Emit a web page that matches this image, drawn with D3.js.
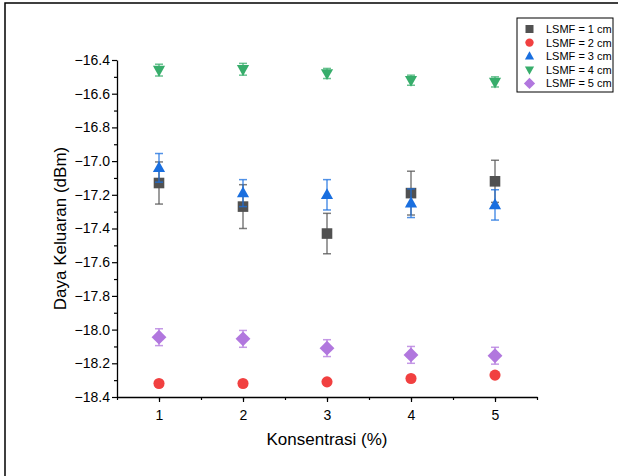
<!DOCTYPE html>
<html>
<head>
<meta charset="utf-8">
<script src="https://cdn.jsdelivr.net/npm/d3@7"></script>
<style>
  body { margin: 0; background: #fff; }
  svg text { font-family: "Liberation Sans", Arial, sans-serif; fill: #000; }
</style>
</head>
<body>
<div class="chart"></div>
<script>
// konsentrasi (%)
const konsentrasi = [1, 2, 3, 4, 5];

const seriesNames = ['LSMF = 1 cm', 'LSMF = 2 cm', 'LSMF = 3 cm', 'LSMF = 4 cm', 'LSMF = 5 cm'];

// daya keluaran (dBm)
const lsmf1 = [-17.13, -17.27, -17.43, -17.19, -17.12];
const lsmf2 = [-18.32, -18.32, -18.31, -18.29, -18.27];
const lsmf3 = [-17.04, -17.19, -17.20, -17.25, -17.26];
const lsmf4 = [-16.46, -16.455, -16.48, -16.52, -16.53];
const lsmf5 = [-18.045, -18.055, -18.11, -18.15, -18.155];

// error bars
const err1 = [0.125, 0.13, 0.12, 0.13, 0.125];
const err2 = [0.01, 0.01, 0.01, 0.01, 0.01];
const err3 = [0.085, 0.08, 0.09, 0.085, 0.09];
const err4 = [0.035, 0.035, 0.03, 0.03, 0.03];
const err5 = [0.05, 0.05, 0.05, 0.05, 0.05];

const yTicks = [-18.4, -18.2, -18.0, -17.8, -17.6, -17.4, -17.2, -17.0, -16.8, -16.6, -16.4];

const colors  = ['#515151', '#F14040', '#1A6FDF', '#37AD6B', '#B177DE'];
const symbols = ['square', 'circle', 'triangle', 'triangleDown', 'diamond'];

const series = [lsmf1, lsmf2, lsmf3, lsmf4, lsmf5].map((vals, i) => ({
  name:   seriesNames[i],
  color:  colors[i],
  symbol: symbols[i],
  points: vals.map((v, j) => ({ x: konsentrasi[j], y: v, e: [err1, err2, err3, err4, err5][i][j] }))
}));

const W = 618, H = 476;
const margin = { left: 117, right: 81, top: 60, bottom: 79 };

const svg = d3.select('.chart').append('svg').attr('width', W).attr('height', H);

// outer frame
svg.append('rect')
  .attr('x', 5).attr('y', 3).attr('width', 640).attr('height', 500)
  .style('fill', 'none').style('stroke', '#000').style('stroke-width', 1.5);

const x = d3.scaleLinear().domain([0.5, 5.5]).range([margin.left, W - margin.right]);
const y = d3.scaleLinear().domain([-18.4, -16.4]).range([H - margin.bottom, margin.top]);

// minor ticks
const xMinor = d3.range(0.5, 5.51, 0.5);
const yMinor = d3.range(-18.3, -16.39, 0.2);

const xAxis = svg.append('g')
  .attr('transform', `translate(0,${H - margin.bottom})`)
  .call(d3.axisBottom(x).tickValues(konsentrasi).tickFormat(d3.format('d')).tickSize(5).tickSizeOuter(0));
svg.append('g')
  .attr('transform', `translate(0,${H - margin.bottom})`)
  .call(d3.axisBottom(x).tickValues(xMinor).tickFormat('').tickSize(3).tickSizeOuter(0))
  .select('.domain').remove();

const yAxis = svg.append('g')
  .attr('transform', `translate(${margin.left},0)`)
  .call(d3.axisLeft(y).tickValues(yTicks).tickFormat(d3.format('.1f')).tickSize(5).tickSizeOuter(0));
svg.append('g')
  .attr('transform', `translate(${margin.left},0)`)
  .call(d3.axisLeft(y).tickValues(yMinor).tickFormat('').tickSize(3).tickSizeOuter(0))
  .select('.domain').remove();

svg.selectAll('.domain').style('stroke', '#000').style('stroke-width', 1.3);
svg.selectAll('.tick line').style('stroke', '#000').style('stroke-width', 1.2);
xAxis.selectAll('.tick text').style('font-size', '14px').attr('dy', '1.1em');
yAxis.selectAll('.tick text').style('font-size', '14px').attr('x', -7);

// titles
svg.append('text')
  .attr('x', x(3)).attr('y', 445)
  .attr('text-anchor', 'middle')
  .style('font-size', '17px')
  .text('Konsentrasi (%)');

svg.append('text')
  .attr('transform', `translate(66,${(margin.top + H - margin.bottom) / 2}) rotate(-90)`)
  .attr('text-anchor', 'middle')
  .style('font-size', '17px')
  .text('Daya Keluaran (dBm)');

function symbolPath(name, size) {
  const s = size;
  switch (name) {
    case 'square':       return `M${-s},${-s}H${s}V${s}H${-s}Z`;
    case 'circle':       return d3.symbol(d3.symbolCircle, Math.PI * s * s * 1.1)();
    case 'triangle':     return `M0,${-s * 1.25}L${s * 1.15},${s * 0.8}L${-s * 1.15},${s * 0.8}Z`;
    case 'triangleDown': return `M0,${s * 1.25}L${s * 1.15},${-s * 0.8}L${-s * 1.15},${-s * 0.8}Z`;
    case 'diamond':      return `M0,${-s * 1.4}L${s * 1.4},0L0,${s * 1.4}L${-s * 1.4},0Z`;
  }
}

const plot = svg.append('g');

series.forEach(s => {
  const g = plot.append('g');
  const eb = g.selectAll('.err').data(s.points).enter().append('g')
    .style('stroke', s.color).style('stroke-opacity', 0.75).style('stroke-width', 1.5);
  eb.append('line')
    .attr('x1', d => x(d.x)).attr('x2', d => x(d.x))
    .attr('y1', d => y(d.y + d.e)).attr('y2', d => y(d.y - d.e));
  [1, -1].forEach(sign => {
    eb.append('line')
      .attr('x1', d => x(d.x) - 4).attr('x2', d => x(d.x) + 4)
      .attr('y1', d => y(d.y + sign * d.e)).attr('y2', d => y(d.y + sign * d.e));
  });
  g.selectAll('.pt').data(s.points).enter().append('path')
    .attr('transform', d => `translate(${x(d.x)},${y(d.y)})`)
    .attr('d', symbolPath(s.symbol, 5.3))
    .style('fill', s.color);
});

// legend
const lg = svg.append('g').attr('transform', 'translate(517,18)');
lg.append('rect')
  .attr('width', 96).attr('height', 74)
  .style('fill', '#fff').style('stroke', '#000').style('stroke-width', 1);
const item = lg.selectAll('.item').data(series).enter().append('g')
  .attr('transform', (d, i) => `translate(0,${11 + i * 13.6})`);
item.append('path')
  .attr('transform', 'translate(12.5,0)')
  .attr('d', d => symbolPath(d.symbol, 4))
  .style('fill', d => d.color);
item.append('text')
  .attr('x', 29).attr('y', 4)
  .style('font-size', '11px')
  .text(d => d.name);
</script>
</body>
</html>
